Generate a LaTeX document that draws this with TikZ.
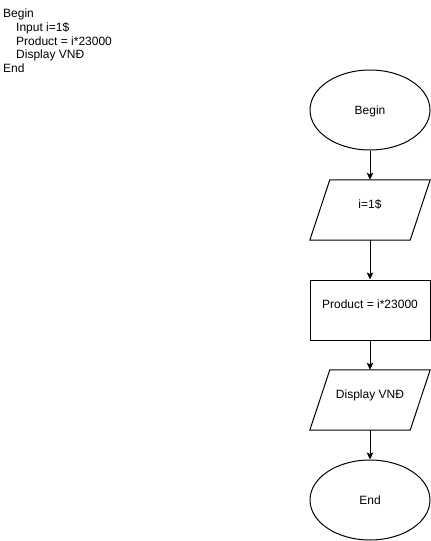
\documentclass[tikz,border=0pt]{standalone}
\usepackage{fontspec}
\setmainfont{Liberation Sans}
\usetikzlibrary{shapes.geometric,arrows.meta}
\tikzset{
  txt/.style={font=\fontsize{12}{14}\selectfont, inner sep=0pt},
  codeline/.style={txt, anchor=base west},
  oval/.style={txt, draw, line width=1pt, ellipse, minimum width=120pt, minimum height=80pt, text height=8.6pt, text depth=0pt},
  iobox/.style={txt, minimum width=120pt, minimum height=60pt, text height=8.6pt, text depth=11pt},
  procbox/.style={txt, draw, line width=1pt, minimum width=120pt, minimum height=60pt, text height=8.6pt, text depth=11.5pt},
  flow/.style={line width=1pt, -{Stealth[length=7pt,width=6.5pt,inset=1.5pt]}},
  para/.style={line width=1pt}
}
\begin{document}
\begin{tikzpicture}[x=1pt,y=-1pt]
\useasboundingbox (0,0) rectangle (431,541);
% pseudo-code
\node[codeline] (c1) at (3,17.5) {Begin};
\node[codeline] (c2) at (16,31.3) {Input i=1\$};
\node[codeline] (c3) at (16,45.1) {Product = i*23000};
\node[codeline] (c4) at (16,58.9) {Display VNĐ};
\node[codeline] (c5) at (3,72.7) {End};
% flowchart
\node[oval] (begin) at (370,110) {Begin};
\node[iobox] (input) at (370,210) {i=1\$};
\draw[para] ([xshift=20pt]input.north west) -- (input.north east) -- ([xshift=-20pt]input.south east) -- (input.south west) -- cycle;
\node[procbox] (prod) at (370,310) {Product = i*23000};
\node[iobox] (disp) at (370,400) {Display VNĐ};
\draw[para] ([xshift=20pt]disp.north west) -- (disp.north east) -- ([xshift=-20pt]disp.south east) -- (disp.south west) -- cycle;
\node[oval] (end) at (370,500) {End};
\draw[flow] (begin.south) -- (input.north);
\draw[flow] (input.south) -- (prod.north);
\draw[flow] (prod.south) -- (disp.north);
\draw[flow] (disp.south) -- (end.north);
\end{tikzpicture}
\end{document}
